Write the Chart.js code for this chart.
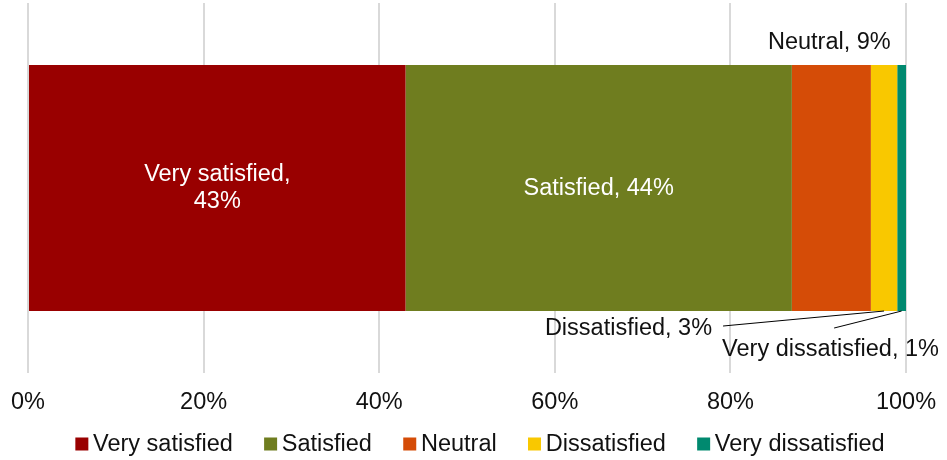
<!DOCTYPE html>
<html>
<head>
<meta charset="utf-8">
<script src="https://cdn.jsdelivr.net/npm/chart.js@4.4.1/dist/chart.umd.min.js"></script>
<style>
html,body{margin:0;padding:0;background:#fff;}
#wrap{width:947px;height:460px;position:relative;}
</style>
</head>
<body>
<div id="wrap"><canvas id="c" width="947" height="460"></canvas></div>
<script>
const categories = ['Satisfaction'];
const seriesNames = ['Very satisfied', 'Satisfied', 'Neutral', 'Dissatisfied', 'Very dissatisfied'];
const seriesValues = [43, 44, 9, 3, 1];
const seriesColors = ['#990000', '#6F7D1F', '#D54C07', '#F9C800', '#00896F'];
const xTicks = [0, 20, 40, 60, 80, 100];

const FONT = '"Liberation Sans", Arial, sans-serif';
const FS = 23.5;
const TXT = '#111111';

const datasets = seriesNames.map((n, i) => ({
  label: n,
  data: [seriesValues[i]],
  backgroundColor: seriesColors[i],
  borderWidth: 0,
  categoryPercentage: 1,
  barPercentage: 0.665
}));

const labelPlugin = {
  id: 'labels',
  afterDatasetsDraw(chart) {
    const ctx = chart.ctx;
    ctx.save();
    ctx.font = FS + 'px ' + FONT;
    const el = i => chart.getDatasetMeta(i).data[0];
    const txt = i => seriesNames[i] + ', ' + seriesValues[i] + '%';
    let e = el(0);
    let cx = (e.x + e.base) / 2;
    ctx.fillStyle = '#ffffff';
    ctx.textAlign = 'center';
    ctx.textBaseline = 'middle';
    ctx.fillText(seriesNames[0] + ',', cx, e.y - 13);
    ctx.fillText(seriesValues[0] + '%', cx, e.y + 14);
    e = el(1);
    cx = (e.x + e.base) / 2;
    ctx.fillText(txt(1), cx, e.y + 1);
    e = el(2);
    cx = (e.x + e.base) / 2;
    const top = e.y - e.height / 2;
    const bottom = e.y + e.height / 2;
    ctx.fillStyle = TXT;
    ctx.textBaseline = 'alphabetic';
    ctx.fillText(txt(2), cx - 2, top - 15.7);
    e = el(3);
    cx = (e.x + e.base) / 2;
    ctx.strokeStyle = '#000';
    ctx.lineWidth = 1;
    ctx.beginPath();
    ctx.moveTo(cx - 161, bottom + 15);
    ctx.lineTo(cx, bottom);
    ctx.stroke();
    ctx.textAlign = 'right';
    ctx.fillText(txt(3), cx - 172, bottom + 24);
    e = el(4);
    cx = (e.x + e.base) / 2;
    ctx.beginPath();
    ctx.moveTo(cx - 67.5, bottom + 17);
    ctx.lineTo(cx, bottom);
    ctx.stroke();
    ctx.textAlign = 'left';
    ctx.fillText(txt(4), cx - 179.5, bottom + 44.7);
    ctx.restore();
  }
};

const legendPlugin = {
  id: 'customLegend',
  afterDraw(chart) {
    const ctx = chart.ctx;
    ctx.save();
    ctx.font = FS + 'px ' + FONT;
    const box = 13, gapText = 4.7, gapItem = 31.3;
    const widths = seriesNames.map(n => ctx.measureText(n).width);
    let total = 0;
    widths.forEach((w, i) => { total += box + gapText + w + (i < widths.length - 1 ? gapItem : 0); });
    let x = 480 - total / 2;
    const cy = 444;
    ctx.textBaseline = 'middle';
    ctx.textAlign = 'left';
    seriesNames.forEach((n, i) => {
      ctx.fillStyle = seriesColors[i];
      ctx.fillRect(x, cy - box / 2, box, box);
      ctx.fillStyle = TXT;
      ctx.fillText(n, x + box + gapText, cy + 1);
      x += box + gapText + widths[i] + gapItem;
    });
    ctx.restore();
  }
};

new Chart(document.getElementById('c'), {
  type: 'bar',
  data: { labels: categories, datasets },
  options: {
    indexAxis: 'y',
    responsive: false,
    animation: false,
    devicePixelRatio: 1,
    layout: { padding: { left: 28, right: 41, top: 3, bottom: 0 } },
    plugins: {
      legend: { display: false },
      tooltip: { enabled: false }
    },
    scales: {
      x: {
        stacked: true,
        min: 0,
        max: 100,
        afterBuildTicks(scale) { scale.ticks = xTicks.map(v => ({ value: v })); },
        afterFit(scale) { scale.height = 87; scale.paddingLeft = 0; scale.paddingRight = 0; },
        border: { display: false },
        grid: { color: '#D9D9D9', lineWidth: 2, drawTicks: false },
        ticks: {
          padding: 15,
          color: TXT,
          font: { family: FONT, size: FS },
          callback: v => v + '%'
        }
      },
      y: { stacked: true, display: false }
    }
  },
  plugins: [labelPlugin, legendPlugin]
});
</script>
</body>
</html>
